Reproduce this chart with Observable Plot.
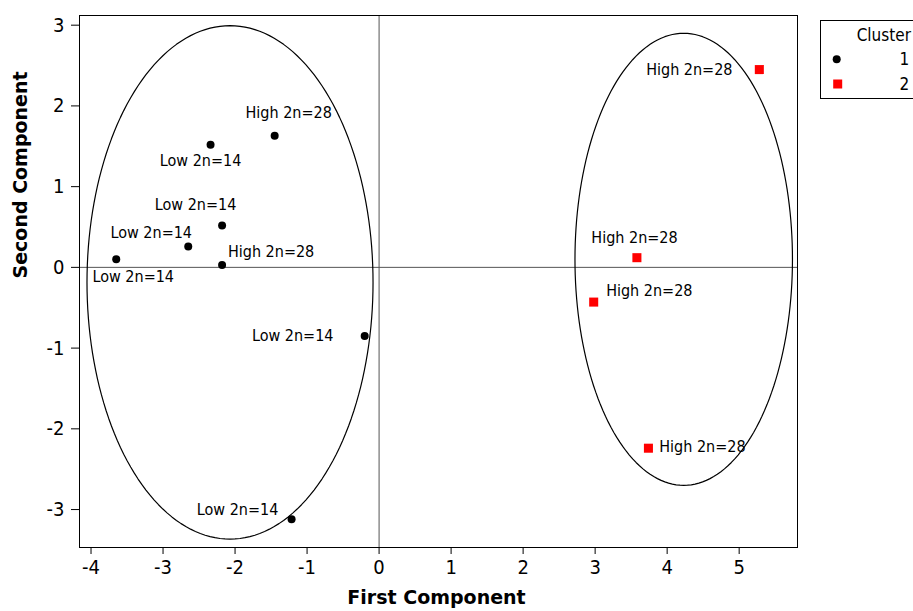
<!DOCTYPE html>
<html><head><meta charset="utf-8">
<script src="https://cdn.jsdelivr.net/npm/d3@7"></script>
<script src="https://cdn.jsdelivr.net/npm/@observablehq/plot@0.6"></script>
<style>
html,body{margin:0;padding:0;background:#fff;overflow:hidden}
#wrap{position:relative;width:913px;height:611px;overflow:hidden}
#legend{position:absolute;left:820px;top:20px;width:110px;height:79px;border:1px solid #000;box-sizing:border-box;background:#fff}
#legend svg{position:absolute;left:-1px;top:-1px}
</style></head><body><div id="wrap"></div>
<script>
// ---- data ----
const firstComponent  = [-1.45, -2.34, -2.18, -2.65, -3.65, -2.18, -0.20, -1.215, 5.28, 3.58, 2.98, 3.74];
const secondComponent = [ 1.63,  1.52,  0.52,  0.26,  0.10,  0.03, -0.85, -3.12,  2.45, 0.12, -0.43, -2.24];
const cluster         = [1, 1, 1, 1, 1, 1, 1, 1, 2, 2, 2, 2];
const groupLabel      = ["High 2n=28", "Low 2n=14", "Low 2n=14", "Low 2n=14", "Low 2n=14", "High 2n=28",
                         "Low 2n=14", "Low 2n=14", "High 2n=28", "High 2n=28", "High 2n=28", "High 2n=28"];
const clusterNames    = ["1", "2"];
const xTicks = [-4, -3, -2, -1, 0, 1, 2, 3, 4, 5];
const yTicks = [-3, -2, -1, 0, 1, 2, 3];
// cluster ellipses (centre and semi-axes, in data units)
const ellipseCx = [-2.07, 4.23];
const ellipseCy = [-0.186, 0.10];
const ellipseRx = [1.986, 1.51];
const ellipseRy = [3.18, 2.80];

// ---- layout (label offsets in px, not data) ----
const labelOffsets = [[14,-23],[-10,16],[-26.5,-21],[-37,-14],[17,18],[49,-13.4],
                      [-72,-0.6],[-54,-9],[-70,0],[-2.4,-20],[55.6,-11.4],[54,-1.7]];

const points = firstComponent.map((x, i) => ({x, y: secondComponent[i], cluster: cluster[i], label: groupLabel[i]}));
const ellipsePts = [];
ellipseCx.forEach((cx, k) => {
  d3.range(0, 360, 2).forEach(a => {
    const t = a * Math.PI / 180;
    ellipsePts.push({k, x: cx + ellipseRx[k] * Math.cos(t), y: ellipseCy[k] + ellipseRy[k] * Math.sin(t)});
  });
});

const tickFont = "DejaVu Sans Condensed";
const plot = Plot.plot({
  width: 913, height: 611,
  marginLeft: 79, marginRight: 116, marginTop: 15, marginBottom: 64,
  x: {domain: [-4.16, 5.81]},
  y: {domain: [-3.47, 3.12]},
  style: {fontFamily: tickFont, background: "white", color: "black"},
  marks: [
    Plot.ruleX([0], {stroke: "#555", strokeWidth: 1}),
    Plot.ruleY([0], {stroke: "#555", strokeWidth: 1}),
    Plot.line(ellipsePts, {x: "x", y: "y", z: "k", curve: "linear-closed", stroke: "black", strokeWidth: 1.2}),
    Plot.dot(points.filter(d => d.cluster === 1), {x: "x", y: "y", r: 4, fill: "black", symbol: "circle"}),
    Plot.dot(points.filter(d => d.cluster === 2), {x: "x", y: "y", r: 5.1, fill: "#ff0000", symbol: "square"}),
    ...points.map((d, i) => Plot.text([d], {x: "x", y: "y", text: "label", dx: labelOffsets[i][0], dy: labelOffsets[i][1],
      fontSize: 16, fontFamily: tickFont, fill: "black"})),
    Plot.axisX({ticks: xTicks, tickSize: 7, tickPadding: 5, fontSize: 20, tickFormat: d => String(d), label: null}),
    Plot.axisY({ticks: yTicks, tickSize: 8, tickPadding: 7, fontSize: 20, tickFormat: d => String(d), label: null}),
    Plot.text(["First Component"], {frameAnchor: "bottom", dy: 56, dx: -2, fontWeight: "bold", fontSize: 19, fontFamily: "DejaVu Sans"}),
    Plot.text(["Second Component"], {frameAnchor: "left", dx: -59, dy: -3, rotate: -90, fontWeight: "bold", fontSize: 19, fontFamily: "DejaVu Sans"}),
    Plot.frame({stroke: "black", strokeWidth: 1})
  ]
});
const wrap = document.getElementById("wrap");
wrap.appendChild(plot);

// legend
const legend = document.createElement("div");
legend.id = "legend";
const ns = "http://www.w3.org/2000/svg";
const svg = document.createElementNS(ns, "svg");
svg.setAttribute("width", 110); svg.setAttribute("height", 79);
svg.style.fontFamily = tickFont; svg.style.fontSize = "17px";
const mk = (tag, attrs, txt) => { const e = document.createElementNS(ns, tag); for (const k in attrs) e.setAttribute(k, attrs[k]); if (txt) e.textContent = txt; svg.appendChild(e); return e; };
mk("text", {x: 36.7, y: 20.7}, "Cluster");
mk("circle", {cx: 16.7, cy: 39.3, r: 4, fill: "black"});
mk("text", {x: 89.3, y: 45, "text-anchor": "end"}, clusterNames[0]);
mk("rect", {x: 13.2, y: 59.5, width: 9, height: 9, fill: "#ff0000"});
mk("text", {x: 89.3, y: 70, "text-anchor": "end"}, clusterNames[1]);
legend.appendChild(svg);
wrap.appendChild(legend);
</script></body></html>
